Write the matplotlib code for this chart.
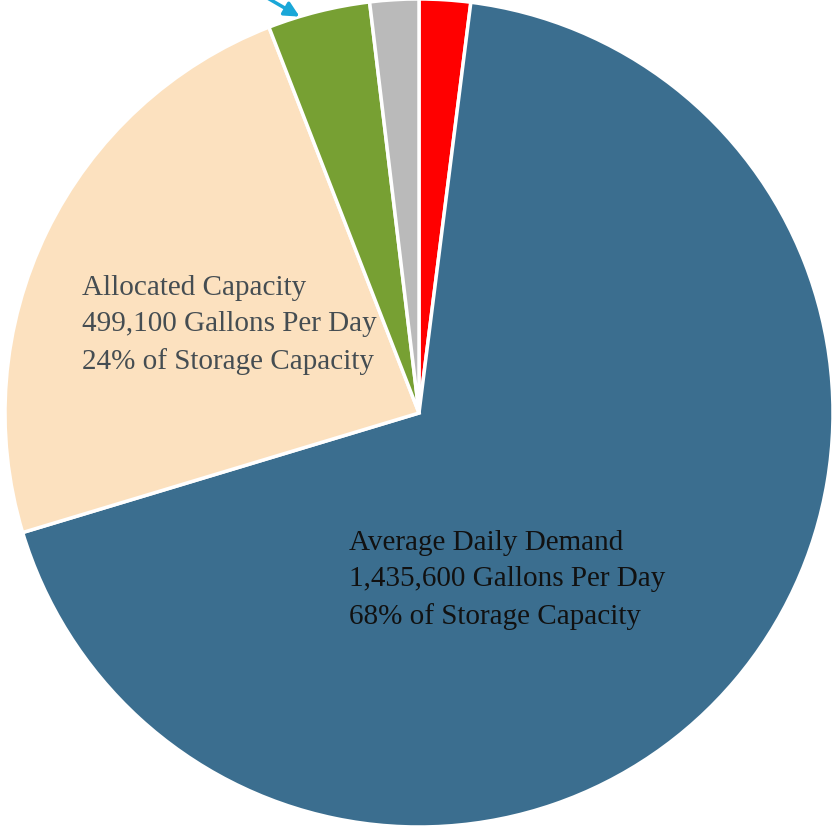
import matplotlib.pyplot as plt

labels = ["Unallocated", "Average Daily Demand", "Allocated Capacity", "Other", "Reserve"]
values = [42000, 1435600, 499100, 84000, 40000]
colors = ["#FF0000", "#3B6E8F", "#FCE1BF", "#77A033", "#BABABA"]

alloc_text = "Allocated Capacity\n499,100 Gallons Per Day\n24% of Storage Capacity"
demand_text = "Average Daily Demand\n1,435,600 Gallons Per Day\n68% of Storage Capacity"

W, H = 837, 826
cx, cy, r = 419, 413, 414  # pie centre/radius in pixels

fig = plt.figure(figsize=(W / 100, H / 100), dpi=100)
ax = fig.add_axes([0, 0, 1, 1])

ax.pie(values, colors=colors, startangle=90, counterclock=False,
       wedgeprops=dict(edgecolor="white", linewidth=2.5))

# map pixel space onto data space
ax.set_aspect("auto")
ax.set_xlim(-cx / r, (W - cx) / r)
ax.set_ylim(-(H - cy) / r, cy / r)
ax.axis("off")

def px(x, y):
    return (x - cx) / r, (cy - y) / r

font = dict(family="Liberation Serif", fontsize=21, linespacing=1.5)
ax.text(*px(82, 325), alloc_text, color="#454D52", ha="left", va="center", **font)
ax.text(*px(349, 580), demand_text, color="#111111", ha="left", va="center", **font)

# arrow pointing at the small green slice
ax.annotate("", xy=px(302, 18), xytext=px(264, -4),
            arrowprops=dict(arrowstyle="-|>", color="#1AA7D8", lw=2.5, mutation_scale=22),
            annotation_clip=False)

fig.savefig("out.png", dpi=100)
